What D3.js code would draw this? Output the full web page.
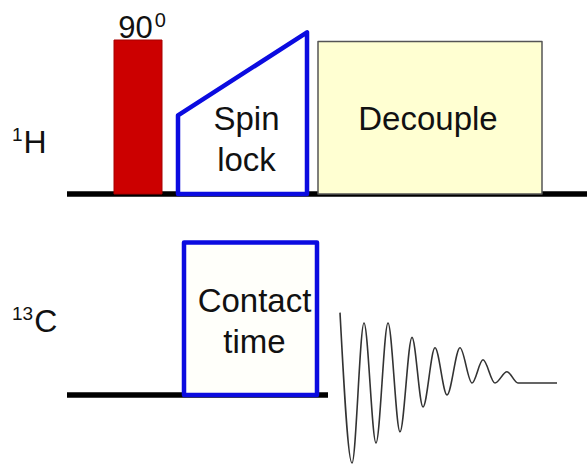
<!DOCTYPE html>
<html>
<head>
<meta charset="utf-8">
<script src="https://cdn.jsdelivr.net/npm/d3@7"></script>
<style>
body { margin: 0; background: #fff; }
text { font-family: "Liberation Sans", Arial, sans-serif; fill: #111; }
</style>
</head>
<body>
<script>
// CP pulse sequence: time in arbitrary units, rf amplitude in % of full power
var channels = ["1H", "13C"];
var channelIso = ["1", "13"];
var channelEl = ["H", "C"];
var channelEnd = [104, 52.2];

var pulseNames = ["90", "Spin lock", "Decouple", "Contact time"];
var pulseChannel = ["1H", "1H", "1H", "13C"];
var pulseStart = [9.4, 22.2, 50.2, 23.4];
var pulseEnd = [19, 48, 95, 50];
var ampStart = [100, 51, 99, 99];
var ampEnd = [100, 105, 99, 99];

// FID extrema (time, relative amplitude)
var fidTime = [54.6, 57, 59.4, 61.8, 64.2, 66.6, 69, 71.2, 73.6, 76, 78.6, 81, 83.2, 85.6, 88, 90.2, 98];
var fidAmp = [0.88, -1, 0.75, -0.75, 0.75, -0.61, 0.57, -0.3, 0.44, -0.15, 0.44, 0, 0.29, 0, 0.14, 0, 0];

var width = 587, height = 465;
var svg = d3.select("body").append("svg")
    .attr("width", width)
    .attr("height", height);

var x = d3.scaleLinear().domain([0, 104]).range([67, 587]);
var amp = d3.scaleLinear().domain([0, 100]).range([0, 154]);
var baseY = {"1H": 194, "13C": 395};

var style = {
  "90":           {fill: "#cc0000", stroke: "#a80000", sw: 1},
  "Spin lock":    {fill: "#ffffff", stroke: "#0b0be0", sw: 4.5},
  "Decouple":     {fill: "#ffffd2", stroke: "#555555", sw: 1.5},
  "Contact time": {fill: "#fffffa", stroke: "#0b0be0", sw: 4.5}
};
// text placement inside each pulse: x offset, baseline of first line
var textPos = {
  "Spin lock":    {dx: 4, y: 130},
  "Decouple":     {dx: -2, y: 130},
  "Contact time": {dx: 4, y: 312}
};

// channel labels
channels.forEach(function(c, i) {
  var t = svg.append("text")
      .attr("x", 12)
      .attr("y", baseY[c] - (i == 0 ? 41 : 63))
      .style("font-size", "32px");
  t.append("tspan").text(channelIso[i])
      .style("font-size", "19px")
      .attr("dy", -12);
  t.append("tspan").text(channelEl[i])
      .attr("dy", 12)
      .attr("dx", 1);
});

var poly = d3.line().curve(d3.curveLinearClosed);

// baselines (drawn first so the blue boxes sit on top)
channels.forEach(function(c, i) {
  svg.append("line")
      .attr("x1", x(0)).attr("x2", x(channelEnd[i]))
      .attr("y1", baseY[c]).attr("y2", baseY[c])
      .attr("stroke", "#000")
      .attr("stroke-width", 5.5);
});

pulseNames.forEach(function(name, i) {
  var b = baseY[pulseChannel[i]];
  var s = style[name];
  var pts = [
    [x(pulseStart[i]), b],
    [x(pulseStart[i]), b - amp(ampStart[i])],
    [x(pulseEnd[i]), b - amp(ampEnd[i])],
    [x(pulseEnd[i]), b]
  ];
  svg.append("path")
      .attr("d", poly(pts))
      .attr("fill", s.fill)
      .attr("stroke", s.stroke)
      .attr("stroke-width", s.sw)
      .attr("stroke-linejoin", "round");

  var cx = (x(pulseStart[i]) + x(pulseEnd[i])) / 2;
  if (name == "90") {
    var t = svg.append("text")
        .attr("x", cx + 4)
        .attr("y", b - amp(ampStart[i]) - 2)
        .attr("text-anchor", "middle")
        .style("font-size", "31px");
    t.append("tspan").text(name);
    t.append("tspan").text("0")
        .style("font-size", "20px")
        .attr("dx", 2)
        .attr("dy", -11);
  } else {
    var p = textPos[name];
    name.split(" ").forEach(function(w, j) {
      svg.append("text")
          .attr("x", cx + p.dx)
          .attr("y", p.y + j * 41)
          .attr("text-anchor", "middle")
          .style("font-size", "33px")
          .text(w);
    });
  }
});

// free induction decay on 13C
var fy = d3.scaleLinear().domain([-1, 1]).range([463, 303]);
var fid = d3.line()
    .x(function(d) { return x(d[0]); })
    .y(function(d) { return fy(d[1]); })
    .curve(d3.curveMonotoneX);

svg.append("path")
    .attr("d", fid(d3.zip(fidTime, fidAmp)))
    .attr("fill", "none")
    .attr("stroke", "#333")
    .attr("stroke-width", 1.6);
</script>
</body>
</html>
